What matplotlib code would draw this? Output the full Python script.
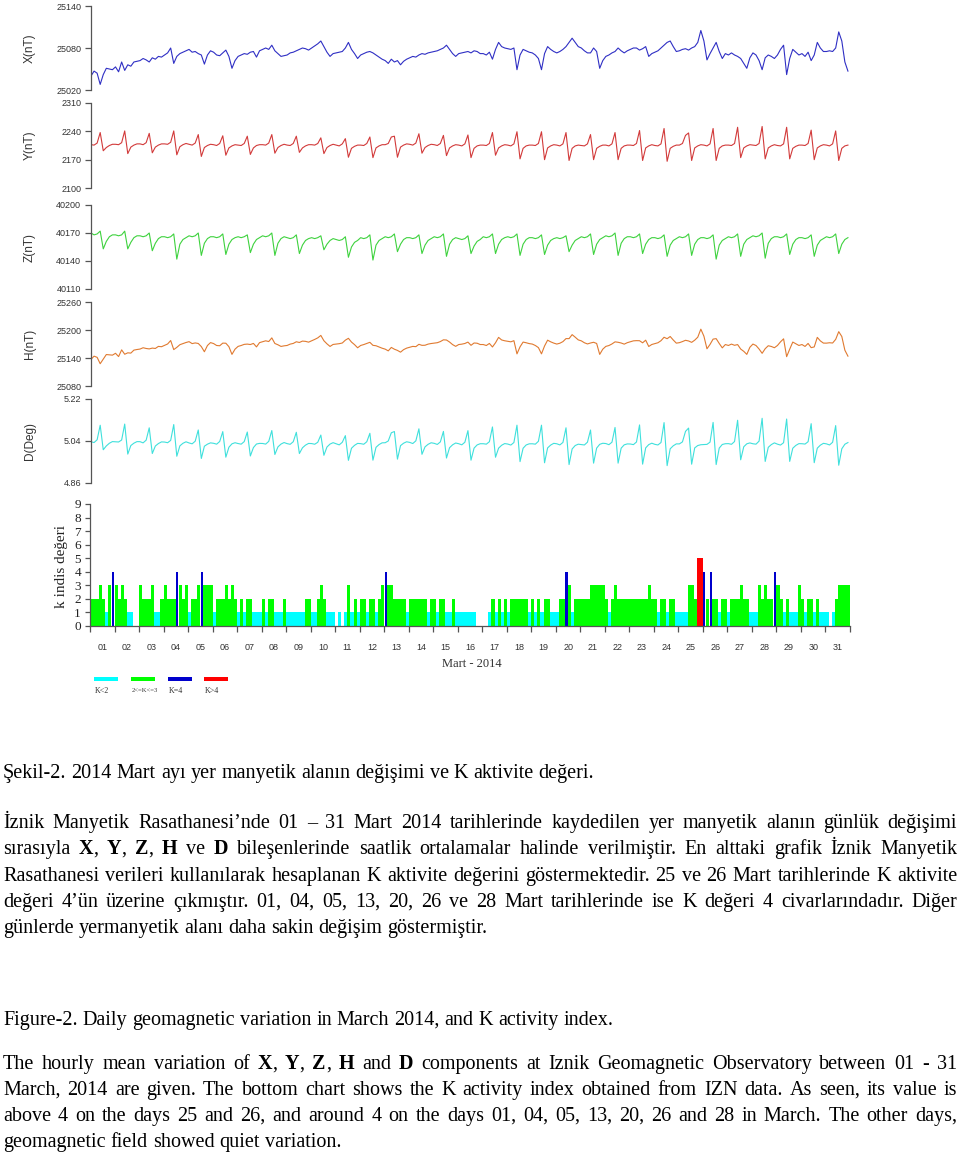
import re
import numpy as np
import matplotlib
matplotlib.use("Agg")
import matplotlib.pyplot as plt
from matplotlib.patches import Rectangle

# ---------------- data (3-hourly samples, 8 per day, 1-31 March 2014) ----------------
X_nT = [
    25040, 25047, 25044, 25028, 25042, 25051, 25050, 25049,
    25053, 25046, 25060, 25048, 25056, 25054, 25060, 25061,
    25062, 25065, 25063, 25060, 25066, 25064, 25068, 25067,
    25070, 25073, 25080, 25058, 25068, 25072, 25074, 25076,
    25078, 25074, 25075, 25072, 25070, 25057, 25070, 25076,
    25074, 25070, 25069, 25073, 25077, 25068, 25051, 25062,
    25068, 25070, 25072, 25071, 25074, 25075, 25067, 25076,
    25078, 25080, 25078, 25084, 25076, 25072, 25068, 25069,
    25070, 25073, 25074, 25076, 25078, 25080, 25079, 25077,
    25080, 25083, 25086, 25090, 25082, 25074, 25068, 25072,
    25073, 25074, 25075, 25080, 25088, 25078, 25072, 25065,
    25070, 25072, 25074, 25075, 25073, 25070, 25067, 25064,
    25062, 25058, 25064, 25060, 25062, 25056, 25061, 25064,
    25066, 25068, 25067, 25070, 25072, 25071, 25073, 25074,
    25075, 25076, 25078, 25080, 25084, 25078, 25072, 25068,
    25072, 25073, 25074, 25075, 25073, 25076, 25075, 25072,
    25072, 25070, 25074, 25064, 25078, 25088, 25082, 25080,
    25079, 25078, 25080, 25049, 25070, 25078, 25076, 25074,
    25073, 25070, 25065, 25049, 25072, 25082, 25078, 25075,
    25073, 25075, 25078, 25082, 25088, 25094, 25088, 25082,
    25080, 25076, 25073, 25073, 25080, 25075, 25051, 25062,
    25068, 25070, 25073, 25075, 25080, 25076, 25073, 25076,
    25078, 25080, 25080, 25077, 25079, 25082, 25068, 25072,
    25074, 25076, 25080, 25084, 25088, 25090, 25082, 25075,
    25076, 25078, 25079, 25077, 25080, 25082, 25088, 25105,
    25090, 25063, 25072, 25080, 25088, 25075, 25065, 25072,
    25070, 25073, 25070, 25068, 25065, 25058, 25051, 25066,
    25073, 25070, 25062, 25049, 25066, 25070, 25068, 25065,
    25070, 25078, 25084, 25042, 25065, 25078, 25074, 25070,
    25072, 25068, 25074, 25062, 25070, 25088, 25080, 25075,
    25075, 25076, 25075, 25080, 25103, 25090, 25060, 25047,
]

Y_nT = [
    2207, 2206, 2211, 2237, 2192, 2200, 2205, 2208,
    2208, 2207, 2212, 2241, 2185, 2201, 2206, 2209,
    2209, 2207, 2212, 2235, 2187, 2201, 2206, 2209,
    2209, 2208, 2213, 2241, 2182, 2202, 2207, 2210,
    2208, 2206, 2211, 2232, 2178, 2200, 2205, 2208,
    2207, 2205, 2210, 2229, 2181, 2199, 2204, 2207,
    2206, 2205, 2210, 2228, 2183, 2199, 2205, 2207,
    2207, 2206, 2211, 2232, 2186, 2200, 2205, 2208,
    2206, 2205, 2210, 2228, 2188, 2199, 2204, 2207,
    2207, 2206, 2210, 2224, 2185, 2200, 2205, 2208,
    2206, 2204, 2209, 2222, 2176, 2198, 2203, 2206,
    2206, 2205, 2210, 2226, 2175, 2199, 2204, 2207,
    2207, 2210, 2226, 2228, 2176, 2201, 2206, 2209,
    2208, 2206, 2211, 2234, 2186, 2200, 2205, 2208,
    2207, 2205, 2210, 2230, 2180, 2199, 2204, 2207,
    2206, 2204, 2209, 2231, 2175, 2198, 2204, 2206,
    2206, 2205, 2210, 2237, 2181, 2199, 2204, 2207,
    2206, 2204, 2209, 2239, 2172, 2198, 2204, 2206,
    2206, 2205, 2210, 2239, 2170, 2199, 2204, 2207,
    2206, 2204, 2209, 2237, 2168, 2198, 2204, 2206,
    2205, 2204, 2209, 2232, 2170, 2198, 2203, 2206,
    2206, 2204, 2209, 2237, 2170, 2198, 2204, 2206,
    2206, 2205, 2210, 2242, 2168, 2199, 2204, 2207,
    2205, 2204, 2209, 2247, 2166, 2198, 2203, 2206,
    2206, 2210, 2230, 2236, 2168, 2199, 2204, 2207,
    2206, 2204, 2209, 2247, 2168, 2198, 2204, 2206,
    2206, 2205, 2210, 2250, 2175, 2199, 2204, 2207,
    2206, 2205, 2210, 2252, 2172, 2199, 2204, 2207,
    2205, 2204, 2209, 2250, 2172, 2198, 2203, 2206,
    2206, 2205, 2210, 2243, 2170, 2199, 2204, 2207,
    2206, 2204, 2209, 2241, 2168, 2198, 2204, 2206,
]

Z_nT = [
    40170, 40168, 40169, 40172, 40153, 40161, 40166, 40168,
    40168, 40167, 40168, 40172, 40153, 40160, 40165, 40167,
    40167, 40166, 40167, 40170, 40151, 40159, 40164, 40166,
    40166, 40165, 40166, 40169, 40142, 40158, 40163, 40165,
    40167, 40166, 40167, 40170, 40146, 40159, 40164, 40166,
    40166, 40165, 40166, 40169, 40147, 40158, 40163, 40165,
    40166, 40165, 40166, 40168, 40149, 40158, 40163, 40165,
    40167, 40166, 40167, 40170, 40146, 40159, 40164, 40166,
    40165, 40164, 40165, 40168, 40148, 40157, 40162, 40164,
    40165, 40164, 40165, 40167, 40152, 40158, 40162, 40164,
    40163, 40162, 40163, 40166, 40144, 40155, 40160, 40162,
    40165, 40164, 40165, 40168, 40141, 40157, 40162, 40164,
    40166, 40165, 40166, 40169, 40150, 40158, 40163, 40165,
    40165, 40164, 40165, 40168, 40148, 40157, 40162, 40164,
    40166, 40165, 40166, 40169, 40145, 40158, 40163, 40165,
    40164, 40163, 40164, 40167, 40148, 40156, 40161, 40163,
    40166, 40165, 40166, 40169, 40148, 40158, 40163, 40165,
    40166, 40165, 40166, 40169, 40146, 40158, 40163, 40165,
    40165, 40164, 40165, 40168, 40147, 40157, 40162, 40164,
    40165, 40164, 40165, 40167, 40150, 40157, 40162, 40164,
    40166, 40165, 40166, 40169, 40147, 40158, 40163, 40165,
    40167, 40166, 40167, 40170, 40146, 40159, 40164, 40166,
    40166, 40165, 40166, 40169, 40148, 40158, 40163, 40165,
    40165, 40164, 40165, 40168, 40145, 40157, 40162, 40164,
    40166, 40165, 40166, 40169, 40146, 40158, 40163, 40165,
    40165, 40164, 40165, 40168, 40142, 40157, 40162, 40164,
    40166, 40165, 40166, 40169, 40145, 40158, 40163, 40165,
    40167, 40166, 40167, 40170, 40143, 40159, 40164, 40166,
    40166, 40165, 40166, 40169, 40147, 40158, 40163, 40165,
    40165, 40164, 40165, 40168, 40145, 40157, 40162, 40164,
    40166, 40165, 40166, 40169, 40148, 40158, 40163, 40165,
]

K_index = [
    2, 2, 2, 3, 2, 1, 3, 4,
    3, 2, 3, 2, 1, 1, 0, 0,
    3, 2, 2, 2, 3, 1, 1, 2,
    3, 2, 2, 2, 4, 3, 2, 3,
    1, 2, 2, 3, 4, 3, 3, 3,
    1, 2, 2, 2, 3, 2, 3, 2,
    1, 2, 1, 2, 2, 1, 1, 1,
    2, 1, 2, 2, 1, 1, 1, 2,
    1, 1, 1, 1, 1, 1, 2, 2,
    1, 1, 2, 3, 2, 1, 1, 1,
    0, 1, 0, 1, 3, 1, 2, 1,
    2, 2, 1, 2, 2, 1, 2, 3,
    4, 3, 3, 2, 2, 2, 2, 1,
    2, 2, 2, 2, 2, 2, 1, 2,
    2, 1, 2, 2, 1, 1, 2, 1,
    1, 1, 1, 1, 1, 1, 0, 0,
    0, 0, 1, 2, 1, 2, 1, 2,
    1, 2, 2, 2, 2, 2, 2, 1,
    2, 1, 2, 1, 2, 2, 1, 1,
    1, 2, 2, 4, 3, 1, 2, 2,
    2, 2, 2, 3, 3, 3, 3, 3,
    2, 1, 2, 3, 2, 2, 2, 2,
    2, 2, 2, 2, 2, 2, 3, 2,
    2, 1, 2, 2, 1, 2, 2, 1,
    1, 1, 1, 3, 3, 2, 5, 5,
    4, 2, 4, 2, 2, 1, 2, 2,
    1, 2, 2, 2, 3, 2, 2, 1,
    1, 1, 3, 2, 3, 2, 2, 4,
    3, 2, 1, 2, 1, 1, 1, 3,
    2, 1, 2, 2, 1, 2, 1, 1,
    1, 0, 1, 2, 3, 3, 3, 3,
]

day_labels = ["%02d" % d for d in range(1, 32)]
X_ticks = [25020, 25080, 25140]
Y_ticks = [2100, 2170, 2240, 2310]
Z_ticks = [40110, 40140, 40170, 40200]
H_ticks = [25080, 25140, 25200, 25260]
D_ticks = [4.86, 5.04, 5.22]
K_ticks = list(range(10))
legend_labels = ["K<2", "2<=K<=3", "K=4", "K>4"]

caption_tr = "Şekil-2. 2014 Mart ayı yer manyetik alanın değişimi ve K aktivite değeri."
para_tr = [
    "İznik Manyetik Rasathanesi’nde 01 – 31 Mart 2014 tarihlerinde kaydedilen yer manyetik alanın günlük değişimi",
    "sırasıyla {X}, {Y}, {Z}, {H} ve {D} bileşenlerinde saatlik ortalamalar halinde verilmiştir. En alttaki grafik İznik Manyetik",
    "Rasathanesi verileri kullanılarak hesaplanan K aktivite değerini göstermektedir. 25 ve 26 Mart tarihlerinde K aktivite",
    "değeri 4’ün üzerine çıkmıştır. 01, 04, 05, 13, 20, 26 ve 28 Mart tarihlerinde ise K değeri 4 civarlarındadır. Diğer",
    "günlerde yermanyetik alanı daha sakin değişim göstermiştir.",
]
caption_en = "Figure-2. Daily geomagnetic variation in March 2014, and K activity index."
para_en = [
    "The hourly mean variation of {X}, {Y}, {Z}, {H} and {D} components at Iznik Geomagnetic Observatory between 01 - 31",
    "March, 2014 are given. The bottom chart shows the K activity index obtained from IZN data. As seen, its value is",
    "above  4 on the days  25 and 26, and around 4 on the days 01, 04, 05, 13, 20, 26 and 28 in March. The other days,",
    "geomagnetic field showed quiet variation.",
]

# ---------------- derived quantities ----------------
X = np.array(X_nT, float)
Y = np.array(Y_nT, float)
Z = np.array(Z_nT, float)
H = np.hypot(X, Y)                       # horizontal intensity
D = np.degrees(np.arctan2(Y, X))         # declination
t = np.arange(len(X)) / 8.0              # days since 1 March 00 UT
K = np.array(K_index)
tk = np.arange(len(K)) / 8.0

# ---------------- figure ----------------
plt.rcParams["font.family"] = ["Liberation Sans", "DejaVu Sans"]
W, HH = 960, 1156
fig = plt.figure(figsize=(W / 100, HH / 100), dpi=100)
SERIF = ["Liberation Serif", "DejaVu Serif"]


def add_ax(l, top, r, b):
    return fig.add_axes([l / W, 1 - b / HH, (r - l) / W, (b - top) / HH])


panels = [
    (X, "#2f2fc4", "X(nT)", X_ticks, (6, 90), "{:.0f}"),
    (Y, "#d23a3a", "Y(nT)", Y_ticks, (103, 188), "{:.0f}"),
    (Z, "#3ed23e", "Z(nT)", Z_ticks, (205, 289), "{:.0f}"),
    (H, "#e07a30", "H(nT)", H_ticks, (302, 386), "{:.0f}"),
    (D, "#3fe0dc", "D(Deg)", D_ticks, (399, 483), "{:.2f}"),
]
for vals, color, label, ticks, (top, bot), fmt in panels:
    ax = add_ax(91, top, 851, bot)
    ax.plot(t, vals, color=color, lw=0.8)
    ax.set_xlim(0, 31)
    ax.set_ylim(ticks[0], ticks[-1])
    ax.set_yticks(ticks)
    ax.set_yticklabels([fmt.format(v) for v in ticks])
    ax.set_xticks([])
    for s in ["top", "right", "bottom"]:
        ax.spines[s].set_visible(False)
    ax.spines["left"].set_color("#555555")
    ax.spines["left"].set_linewidth(0.9)
    ax.tick_params(axis="y", length=4, width=0.9, color="#555555",
                   labelsize=6.5, labelcolor="#333333", pad=3)
    ax.patch.set_alpha(0)
    fig.text(30 / W, 1 - ((top + bot) / 2) / HH, label, rotation=90,
             ha="center", va="center", fontsize=8.5, color="#333333")

# ---------------- K index panel ----------------
axk = add_ax(90, 504, 850, 626)
cat_cyan = (K > 0) & (K < 2)
cat_green = (K >= 2) & (K <= 3)
cat_blue = K == 4
cat_red = K > 4
axk.bar(tk[cat_cyan], K[cat_cyan], width=1 / 8, align="edge", color="#00ffff", lw=0)
axk.bar(tk[cat_green], K[cat_green], width=1 / 8, align="edge", color="#00ff00", lw=0)
axk.bar(tk[cat_red], K[cat_red], width=1 / 8, align="edge", color="#ff0000", lw=0)
axk.bar(tk[cat_blue] + 1 / 16, K[cat_blue], width=0.085, align="center", color="#0000cc", lw=0)
axk.set_xlim(0, 31)
axk.set_ylim(0, 9)
axk.set_yticks(K_ticks)
axk.set_yticklabels([str(k) for k in K_ticks], fontfamily=SERIF)
axk.set_xticks(np.arange(32))
axk.set_xticklabels([])
axk.set_xticks(np.arange(31) + 0.5, minor=True)
axk.set_xticklabels(day_labels, minor=True)
axk.tick_params(axis="x", which="major", length=4, width=0.9, color="#555555")
axk.tick_params(axis="x", which="minor", length=0, pad=12, labelsize=6.5, labelcolor="#333333")
axk.tick_params(axis="y", length=3.5, width=0.9, color="#555555", labelsize=9.5,
                labelcolor="#222222", pad=3)
for s in ["top", "right"]:
    axk.spines[s].set_visible(False)
for s in ["left", "bottom"]:
    axk.spines[s].set_color("#555555")
    axk.spines[s].set_linewidth(0.9)
axk.patch.set_alpha(0)
fig.text(62 / W, 1 - 566 / HH, "k indis değeri", rotation=90, ha="center", va="center",
         fontsize=11, family=SERIF, color="#222222")
fig.text(472 / W, 1 - 664 / HH, "Mart - 2014", ha="center", va="center",
         fontsize=9, family=SERIF, color="#333333")

# legend
leg_colors = ["#00ffff", "#00ff00", "#0000cc", "#ff0000"]
leg_x = [94, 131, 168, 204]
for lx, c, lab in zip(leg_x, leg_colors, legend_labels):
    fig.add_artist(Rectangle((lx / W, 1 - 681 / HH), 23.5 / W, 4.5 / HH,
                             transform=fig.transFigure, color=c, lw=0))
    fig.text((lx + 1) / W, 1 - 691 / HH, lab, ha="left", va="center",
             fontsize=5.8 if lab != "2<=K<=3" else 4.8, family=SERIF, color="#333333")

# ---------------- text block ----------------
renderer = fig.canvas.get_renderer()


def text_w(s, size, bold=False):
    tt = fig.text(0, 0, s, fontsize=size, family=SERIF, weight="bold" if bold else "normal")
    w = tt.get_window_extent(renderer).width
    tt.remove()
    return w


BODY = 12.0 * 609.0 / text_w(caption_en, 12.0)


def parse_word(w):
    segs = []
    for p in re.split(r"(\{[^}]*\})", w):
        if not p:
            continue
        if p.startswith("{"):
            segs.append((p[1:-1], True))
        else:
            segs.append((p, False))
    return segs


def draw_line(line, yc, justify, x0=3.0, x1=957.0):
    words = [parse_word(w) for w in line.split()]
    widths = [[text_w(s, BODY, b) for s, b in segs] for segs in words]
    totals = [sum(ws) for ws in widths]
    space = text_w("a a", BODY) - text_w("aa", BODY)
    if justify and len(words) > 1:
        gap = (x1 - x0 - sum(totals)) / (len(words) - 1)
    else:
        gap = space
    x = x0
    for segs, ws, tot in zip(words, widths, totals):
        xx = x
        for (s, b), w in zip(segs, ws):
            fig.text(xx / W, 1 - (yc + 6) / HH, s, fontsize=BODY, family=SERIF,
                     weight="bold" if b else "normal", ha="left", va="baseline",
                     color="black")
            xx += w
        x += tot + gap


draw_line(caption_tr, 772, False)
for i, (ln, yc) in enumerate(zip(para_tr, [822, 848, 875, 901, 927])):
    draw_line(ln, yc, i < len(para_tr) - 1)
draw_line(caption_en, 1019, False)
for i, (ln, yc) in enumerate(zip(para_en, [1063, 1089, 1115, 1141])):
    draw_line(ln, yc, i < len(para_en) - 1)

fig.savefig("out.png", dpi=100)
